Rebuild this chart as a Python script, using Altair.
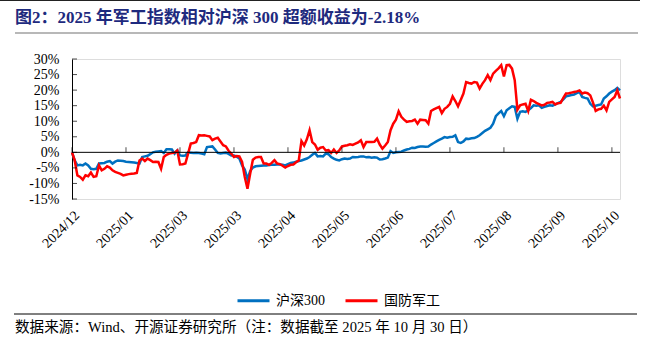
import altair as alt
import pandas as pd

# ---- data (% excess return since 2024/12) ----
hs300 = [
    0, -2.6, -4.2, -4.0, -4.2, -3.6, -4.2, -5.3, -5.4, -5.3,
    -3.6, -3.5, -3.4, -3.0, -2.8, -3.6, -3.0, -2.6, -2.7, -2.8,
    -3.0, -3.1, -3.2, -3.3, -3.4, -3.6, -1.5, -1.3, -1.1, -0.6,
    0.0, 0.2, 0.3, 0.4, -0.2, 1.0, 1.0, 0.9, -0.4, 0.6,
    -1.0, -1.1, -1.0, 0.0, -0.1, -0.2, -0.1, -0.2, -0.4, -0.6,
    1.7, 1.8, 1.9, 0.9, -0.2, -0.4, -0.2, -0.1, -0.5, -1.0,
    -1.0, -1.4, -2.0, -4.2, -5.5, -8.6, -6.0, -4.9, -4.5, -4.4,
    -4.3, -4.2, -4.2, -4.1, -4.0, -4.0, -3.9, -3.9, -4.0, -4.2,
    -3.8, -3.4, -3.3, -3.0, -2.8, -2.6, -2.3, -2.0, -1.5, -0.8,
    -0.2, -1.3, -1.2, -1.3, -0.4, -0.6, -1.5, -2.0, -2.4, -2.6,
    -2.2, -2.0, -2.1, -2.0, -1.5, -1.6, -1.5, -1.3, -1.3, -1.6,
    -1.5, -1.7, -1.6, -1.7, -2.3, -2.2, -2.0, -1.7, 0.4, -0.2,
    0.0, 0.1, 0.2, 0.6, 0.9, 1.1, 1.5, 1.4, 1.7, 1.9,
    1.9, 1.8, 1.9, 2.5, 3.0, 3.5, 4.0, 4.4, 4.9, 4.7,
    4.9, 5.0, 5.5, 3.3, 3.0, 3.5, 4.4, 4.3, 4.5, 4.6,
    5.0, 5.5, 6.2, 6.9, 7.4, 7.9, 9.2, 11.6, 12.5, 13.3,
    11.6, 13.5, 14.2, 14.8, 14.6, 10.8, 13.0, 13.2, 13.0, 13.5,
    14.2, 15.1, 15.0, 15.1, 14.3, 14.6, 14.9, 15.1, 15.0, 15.4,
    15.8, 16.2, 17.0, 18.0, 18.2, 18.4, 18.6, 19.0, 19.4, 17.8,
    17.5, 17.3, 15.6, 14.8, 15.0, 15.2, 15.4, 17.3, 18.0, 18.9,
    19.5, 20.0, 20.7, 19.9,
]

defense = [
    0, -2.6, -7.4, -7.9, -8.8, -7.4, -7.7, -6.5, -7.9, -7.7,
    -4.2, -5.8, -5.3, -4.5, -4.9, -5.8, -6.3, -6.6, -6.9, -7.4,
    -7.2, -7.0, -6.9, -6.8, -6.6, -2.6, -2.0, -2.8, -2.0, -2.5,
    -3.1, -3.0, -3.1, -5.3, -1.5, -0.8, -0.4, -0.2, -0.1, 0.6,
    -3.9, -3.8, -3.6, -0.4, 2.8, 3.0, 3.3, 5.5, 5.4, 5.5,
    5.3, 5.1, 3.9, 4.4, 4.7, 3.5, 2.3, 1.9, 0.5, -0.4,
    -1.5, -1.2, -1.3, -3.1, -7.9, -11.7, -6.9, -2.4, -1.7, -1.5,
    -1.5, -3.6, -3.6, -4.0, -3.4, -2.5, -3.6, -3.8, -4.3, -4.9,
    -4.4, -4.0, -3.9, -3.2, -2.6, 3.6, 2.2, 4.2, 7.1, 3.3,
    2.5, 0.8, 1.5, 1.7, 0.6, 0.7, -0.2, 0.9, -0.2, 0.6,
    1.9, 2.1, 2.3, 2.6, 2.4, 2.8, 3.2, 3.9, 1.7, 3.3,
    3.3, 3.3, 3.4, 4.4, 2.5, 1.2, 2.2, 3.3, 7.1, 9.2,
    10.5, 13.2, 11.4, 10.5, 9.8, 10.0, 10.1, 10.5, 9.2, 10.5,
    10.4, 10.3, 9.2, 13.3, 13.8, 14.2, 14.6, 12.6, 14.0, 14.6,
    15.6, 18.0, 16.5, 14.8, 16.8, 18.9, 22.6, 22.3, 22.1, 22.6,
    22.4, 20.5, 22.0, 23.2, 24.8, 23.2, 25.3, 26.2, 27.0, 28.0,
    24.4, 28.0, 28.1, 26.9, 23.2, 13.7, 15.1, 15.4, 15.6, 13.3,
    16.9, 16.5, 15.9, 15.5, 15.1, 15.3, 15.9, 16.0, 16.2, 15.4,
    15.8, 15.9, 17.5, 18.9, 19.0, 19.2, 19.4, 19.6, 19.9, 18.9,
    19.2, 19.0, 18.3, 16.0, 13.3, 13.8, 14.0, 15.0, 13.5, 16.2,
    17.0, 17.8, 19.9, 17.3,
]

series_names = ["沪深300", "国防军工"]
series_colors = ["#0070C0", "#FF0000"]
x_labels = ["2024/12", "2025/01", "2025/03", "2025/03", "2025/04", "2025/05",
            "2025/06", "2025/07", "2025/08", "2025/09", "2025/10"]
y_ticks = [-15, -10, -5, 0, 5, 10, 15, 20, 25, 30]
label_step = 20

title_text = "图2：2025 年军工指数相对沪深 300 超额收益为-2.18%"
source_text = "数据来源：Wind、开源证券研究所（注：数据截至 2025 年 10 月 30 日）"

# ---- tables ----
n = len(hs300)
df = pd.concat([
    pd.DataFrame({"idx": range(n), "v": hs300, "series": series_names[0]}),
    pd.DataFrame({"idx": range(len(defense)), "v": defense, "series": series_names[1]}),
])
xtick_df = pd.DataFrame({"idx": [i * label_step for i in range(len(x_labels))]})
ytick_df = pd.DataFrame({"v": y_ticks})

last = n - 1
serif = "Liberation Serif, Noto Sans CJK SC"
label_arr = "[" + ",".join("'%s'" % s for s in x_labels) + "]"

xscale = alt.Scale(domain=[0, last], nice=False, zero=False)
yscale = alt.Scale(domain=[min(y_ticks), max(y_ticks)], nice=False, zero=False)

xaxis = alt.Axis(values=list(xtick_df["idx"]), labelExpr=label_arr + "[round(datum.value/%d)]" % label_step,
                 labelAngle=-45, labelAlign="right", labelBaseline="top", labelPadding=9,
                 labelOverlap=False, labelBound=False,
                 domain=False, ticks=False, grid=False, title=None,
                 labelFont=serif, labelFontSize=14, labelColor="black")
yaxis = alt.Axis(values=y_ticks, labelExpr="datum.value + '%'", domain=True, domainColor="black",
                 domainWidth=1, ticks=False, grid=False, title=None, labelPadding=13,
                 labelOverlap=False, labelBound=False, labelFlush=False,
                 labelFont=serif, labelFontSize=14, labelColor="black")

color = alt.Color("series:N",
                  scale=alt.Scale(domain=series_names, range=series_colors),
                  legend=alt.Legend(orient="none", legendX=164, legendY=224, direction="horizontal",
                                    title=None, symbolType="stroke", symbolSize=1024,
                                    symbolStrokeWidth=3, labelFont=serif, labelFontSize=14,
                                    labelColor="black", labelOffset=5, columnPadding=14,
                                    padding=0))

base = alt.Chart(df).mark_line(strokeWidth=2.5).encode(
    x=alt.X("idx:Q", scale=xscale, axis=xaxis),
    y=alt.Y("v:Q", scale=yscale, axis=yaxis),
    color=color,
)
blue_line = base.transform_filter(alt.datum.series == series_names[0])
red_line = base.transform_filter(alt.datum.series == series_names[1])

zero_line = alt.Chart(pd.DataFrame({"a": [0]})).mark_rule(color="black", strokeWidth=1).encode(
    x=alt.X(datum=0, scale=xscale, axis=xaxis), x2=alt.datum(last),
    y=alt.Y(datum=0, scale=yscale, axis=yaxis))

xticks = alt.Chart(xtick_df).mark_tick(orient="vertical", size=5, thickness=1, color="black",
                                       yOffset=-2.5).encode(
    x=alt.X("idx:Q", scale=xscale, axis=xaxis), y=alt.Y(datum=0, scale=yscale, axis=yaxis))
yticks = alt.Chart(ytick_df).mark_tick(orient="horizontal", size=5, thickness=1, color="black",
                                       xOffset=2.5).encode(
    y=alt.Y("v:Q", scale=yscale, axis=yaxis), x=alt.X(datum=0, scale=xscale, axis=xaxis))

one = pd.DataFrame({"a": [0]})
title = alt.Chart(pd.DataFrame({"t": [title_text]})).mark_text(
    align="left", baseline="middle", font=serif, fontSize=17, fontWeight="bold", color="#1E2A7E"
).encode(text="t:N", x=alt.value(-57), y=alt.value(-41))
top_rule = alt.Chart(one).mark_rule(color="#222222", strokeWidth=1).encode(
    x=alt.value(-72), x2=alt.value(568), y=alt.value(-58.5))
title_rule = alt.Chart(one).mark_rule(color="#A0A0A0", strokeWidth=1.5).encode(
    x=alt.value(-57), x2=alt.value(566), y=alt.value(-26))
src_rule = alt.Chart(one).mark_rule(color="black", strokeWidth=1).encode(
    x=alt.value(-58), x2=alt.value(565), y=alt.value(255))
source = alt.Chart(pd.DataFrame({"t": [source_text]})).mark_text(
    align="left", baseline="middle", font=serif, fontSize=14.6, color="black"
).encode(text="t:N", x=alt.value(-57), y=alt.value(269))

chart = alt.layer(
    blue_line, red_line, zero_line, xticks, yticks,
    title, top_rule, title_rule, src_rule, source,
).properties(
    width=548, height=140,
    padding={"left": 72, "top": 59, "right": 31, "bottom": 149},
    autosize=alt.AutoSizeParams(type="none"),
).configure_view(stroke=None).configure(background="white")

chart.save("out.html", embed_options={"renderer": "svg", "actions": False})
